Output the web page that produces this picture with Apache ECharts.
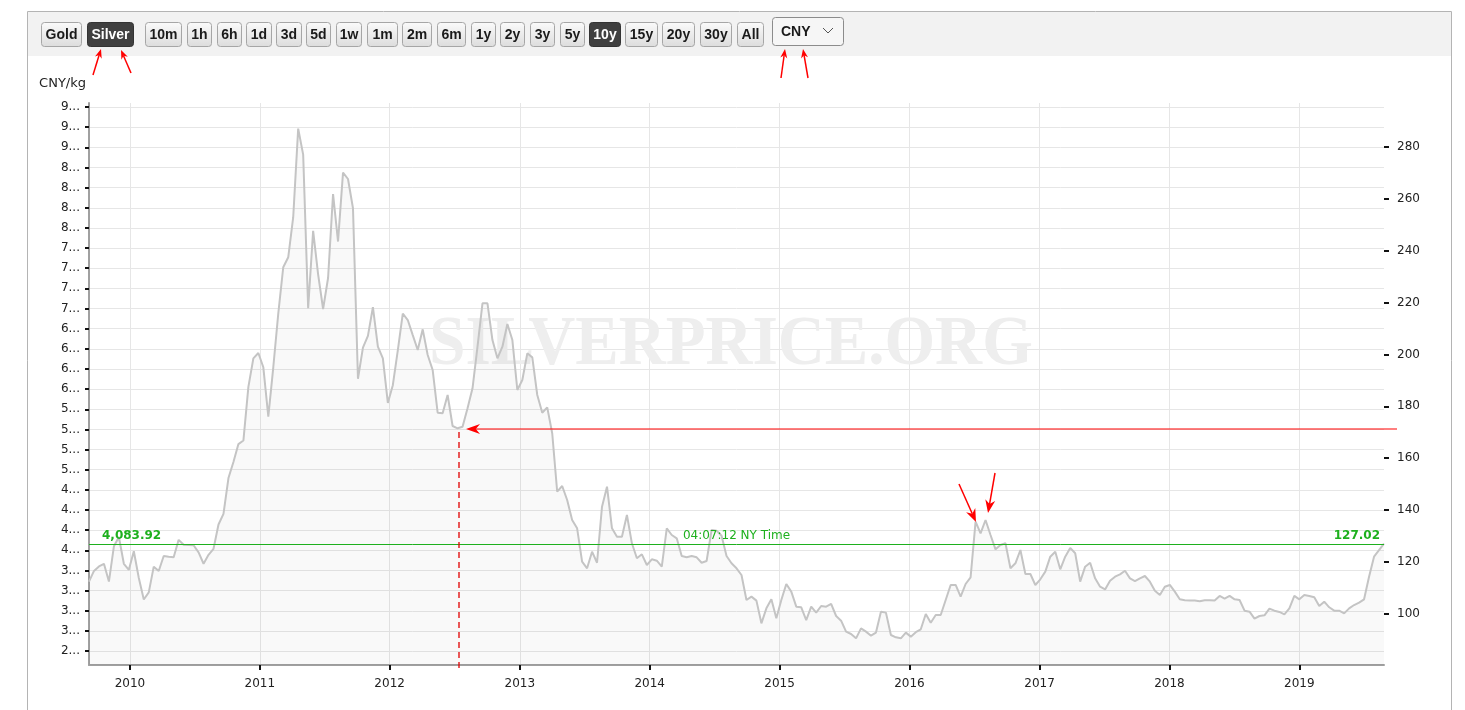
<!DOCTYPE html>
<html>
<head>
<meta charset="utf-8">
<title>Silver price 10y - CNY/kg</title>
<script src="https://cdn.jsdelivr.net/npm/echarts@6.0.0/dist/echarts.min.js"></script>
<style>
  html, body { margin: 0; padding: 0; background: #fff; }
  #chart { width: 1465px; height: 710px; }
</style>
</head>
<body>
<div id="chart"></div>
<script>
// silver price in CNY/kg, one point every 14 days from startDate
const startDate = '2009-09-08'
const stepDays = 14
const prices1 = [3612, 3744, 3800, 3833, 3612, 4050, 4165, 3833, 3758, 3988, 3656, 3390, 3478, 3797, 3744, 3930, 3920, 3913, 4130, 4068, 4065, 4063, 3975, 3833, 3944, 4019]
const prices2 = [4320, 4453, 4897, 5096, 5318, 5362, 6027, 6382, 6448, 6271, 5659, 6271, 6936, 7512, 7636, 8133, 9232, 8909, 7003, 7964, 7424, 6994, 7379, 8421, 7831, 8687]
const prices3 = [8607, 8244, 6129, 6515, 6661, 7016, 6528, 6382, 5828, 6049, 6480, 6938, 6857, 6670, 6485, 6742, 6423, 6237, 5707, 5700, 5927, 5542, 5514, 5534, 5762, 6010]
const prices4 = [6526, 7064, 7064, 6609, 6382, 6526, 6808, 6609, 5989, 6113, 6444, 6394, 5927, 5707, 5774, 5452, 4727, 4798, 4624, 4376, 4273, 3859, 3777, 3983, 3846, 4541]
const prices5 = [4789, 4273, 4169, 4169, 4438, 4087, 3901, 3950, 3818, 3888, 3871, 3797, 4273, 4190, 4149, 3929, 3913, 3929, 3913, 3846, 3867, 4252, 4244, 4180, 3930, 3839]
const prices6 = [3777, 3694, 3383, 3425, 3376, 3094, 3280, 3392, 3156, 3383, 3582, 3487, 3301, 3293, 3135, 3301, 3227, 3309, 3301, 3334, 3185, 3127, 2991, 2962, 2908, 3032]
const prices7 = [2991, 2941, 2979, 3239, 3227, 2949, 2920, 2908, 2979, 2929, 2984, 3020, 3210, 3102, 3197, 3197, 3383, 3570, 3570, 3425, 3582, 3665, 4355, 4210, 4376, 4190]
const prices8 = [4012, 4066, 4087, 3777, 3839, 4004, 3706, 3706, 3570, 3640, 3735, 3921, 3983, 3764, 3921, 4030, 3963, 3611, 3797, 3846, 3652, 3548, 3515, 3623, 3673, 3702]
const prices9 = [3747, 3652, 3619, 3652, 3681, 3611, 3499, 3445, 3548, 3570, 3487, 3392, 3380, 3376, 3376, 3368, 3380, 3380, 3376, 3434, 3400, 3434, 3392, 3383, 3251, 3239]
const prices10 = [3152, 3185, 3193, 3276, 3251, 3235, 3206, 3280, 3434, 3392, 3445, 3434, 3417, 3309, 3363, 3293, 3251, 3251, 3218, 3280, 3321, 3350, 3392, 3673, 3921]

// live quote
const latestDate = '2019-08-27'
const latestPrice = 4083.92
const latestTime = '04:07:12 NY Time'
const kgPerOz = 32.1507466

// axis ticks
const kgTicks = [2750, 3000, 3250, 3500, 3750, 4000, 4250, 4500, 4750, 5000, 5250, 5500, 5750, 6000, 6250, 6500, 6750, 7000, 7250, 7500, 7750, 8000, 8250, 8500, 8750, 9000, 9250, 9500]
const ozTicks = [100, 120, 140, 160, 180, 200, 220, 240, 260, 280]
const yearTicks = ['2010-01-01', '2011-01-01', '2012-01-01', '2013-01-01', '2014-01-01', '2015-01-01', '2016-01-01', '2017-01-01', '2018-01-01', '2019-01-01']
const kgMin = 2577
const kgMax = 9550

// toolbar
const metalButtons = ['Gold', 'Silver']
const rangeButtons = ['10m', '1h', '6h', '1d', '3d', '5d', '1w', '1m', '2m', '6m', '1y', '2y', '3y', '5y', '10y', '15y', '20y', '30y', 'All']
const currency = 'CNY'
const activeMetal = 'Silver'
const activeRange = '10y'

const DAY = 24 * 3600 * 1000
const toTime = d => new Date(d + 'T00:00:00Z').getTime()
const GREEN = '#1eb01e'

let chart = echarts.init(document.getElementById('chart'))

// series data [time, value]
function getSeriesData() {
  const history = [].concat(prices1, prices2, prices3, prices4, prices5, prices6, prices7, prices8, prices9, prices10)
  const t0 = toTime(startDate)
  let data = history.map((v, i) => [t0 + i * stepDays * DAY, v])
  data.push([toTime(latestDate), latestPrice])
  return data
}

// line with a filled head at (x2, y2)
function arrow(x1, y1, x2, y2, len, half, width) {
  const a = Math.atan2(y2 - y1, x2 - x1)
  const c = Math.cos(a), s = Math.sin(a)
  const bx = x2 - len * c, by = y2 - len * s
  const nx = x2 - len * 0.7 * c, ny = y2 - len * 0.7 * s
  return [
    { type: 'line', silent: true, z: 100, shape: { x1: x1, y1: y1, x2: nx, y2: ny }, style: { stroke: '#ff0000', lineWidth: width } },
    { type: 'polygon', silent: true, z: 100, shape: { points: [[x2, y2], [bx - half * s, by + half * c], [nx, ny], [bx + half * s, by - half * c]] }, style: { fill: '#ff0000' } }
  ]
}

// toolbar buttons
function getToolbar() {
  const boxes = [[41, 40], [87, 46], [145, 36], [187, 24], [217, 24], [246, 25], [276, 25], [306, 24], [336, 25], [367, 30], [402, 29], [437, 28], [471, 24], [500, 24], [530, 24], [560, 24], [589, 31], [625, 32], [662, 32], [700, 31], [737, 26]]
  const labels = metalButtons.concat(rangeButtons)
  let els = [
    { type: 'rect', silent: true, z: 90, shape: { x: 28, y: 12, width: 1423, height: 44 }, style: { fill: '#f2f2f2' } },
    { type: 'polyline', silent: true, z: 91, shape: { points: [[27.5, 710], [27.5, 11.5], [1451.5, 11.5], [1451.5, 710]] }, style: { stroke: '#b4b4b4', fill: null, lineWidth: 1 } }
  ]
  labels.forEach((label, i) => {
    const on = label === activeMetal || label === activeRange
    const b = boxes[i]
    els.push({
      type: 'rect', silent: true, z: 92,
      shape: { x: b[0] + 0.5, y: 22.5, width: b[1], height: 24, r: 3 },
      style: {
        fill: on ? '#404040' : new echarts.graphic.LinearGradient(0, 0, 0, 1, [{ offset: 0, color: '#fbfbfb' }, { offset: 1, color: '#dcdcdc' }]),
        stroke: on ? '#333' : '#a6a6a6', lineWidth: 1
      }
    })
    els.push({
      type: 'text', silent: true, z: 93, x: b[0] + b[1] / 2 + 0.5, y: 35,
      style: { text: label, font: 'bold 14px "Liberation Sans"', fill: on ? '#fff' : '#1a1a1a', align: 'center', verticalAlign: 'middle' }
    })
  })
  // currency drop-down
  els.push({ type: 'rect', silent: true, z: 92, shape: { x: 772.5, y: 17.5, width: 71, height: 28, r: 3 }, style: { fill: '#f6f6f6', stroke: '#8c8c8c', lineWidth: 1 } })
  els.push({ type: 'text', silent: true, z: 93, x: 781, y: 32, style: { text: currency, font: 'bold 14px "Liberation Sans"', fill: '#1a1a1a', verticalAlign: 'middle' } })
  els.push({ type: 'polyline', silent: true, z: 93, shape: { points: [[823, 28], [828, 33], [833, 28]] }, style: { stroke: '#555', fill: null, lineWidth: 1 } })
  return els
}

// red marks drawn over the picture
function getNotes() {
  let els = []
  els = els.concat(arrow(93, 75, 101, 49, 9, 3.5, 1.5))
  els = els.concat(arrow(131, 73, 121, 50, 9, 3.5, 1.5))
  els = els.concat(arrow(781, 78, 785, 49, 9, 3.5, 1.5))
  els = els.concat(arrow(808, 78, 803, 49, 9, 3.5, 1.5))
  els = els.concat(arrow(959, 484, 976, 522, 13, 5, 1.5))
  els = els.concat(arrow(995, 473, 988, 513, 13, 5, 1.5))
  els = els.concat(arrow(1397, 429, 466, 429, 14, 5, 1.2))
  els.push({ type: 'line', silent: true, z: 100, shape: { x1: 459, y1: 432, x2: 459, y2: 672 }, style: { stroke: '#e00000', lineWidth: 1.3, lineDash: [6, 4] } })
  return els
}

// green quote line and its texts, placed through the axes
function getQuote() {
  const y = Math.round(chart.convertToPixel({ yAxisIndex: 0 }, latestPrice)) + 0.5
  const x0 = chart.convertToPixel({ xAxisIndex: 0 }, toTime(startDate))
  const x1 = chart.convertToPixel({ xAxisIndex: 0 }, toTime(latestDate))
  const font = w => w + ' 12px "DejaVu Sans"'
  const text = (x, s, align, w) => ({
    type: 'text', silent: true, z: 95, x: x, y: y - 3,
    style: { text: s, font: font(w), fill: GREEN, align: align, verticalAlign: 'bottom' }
  })
  return [
    { type: 'line', silent: true, z: 95, shape: { x1: x0, y1: y, x2: x1, y2: y }, style: { stroke: GREEN, lineWidth: 1 } },
    text(x0 + 13, latestPrice.toLocaleString('en-US', { minimumFractionDigits: 2 }), 'left', 'bold'),
    text((x0 + x1) / 2, latestTime, 'center', 'normal'),
    text(x1 - 4, (latestPrice / kgPerOz).toFixed(2), 'right', 'bold')
  ]
}

function getWatermark() {
  return [{
    type: 'text', silent: true, z: 1, x: 731, y: 346, scaleX: 0.93,
    style: { text: 'SILVERPRICE.ORG', font: 'bold 70px "Liberation Serif"', fill: '#eeeeee', align: 'center', verticalAlign: 'middle' }
  }]
}

function getOptions() {
  let option = {
    animation: false,
    textStyle: { fontFamily: 'DejaVu Sans' },
    grid: { left: 89, right: 81, top: 103, bottom: 45, containLabel: false },
    xAxis: {
      // time values on a plain value axis so the year ticks can be listed
      type: 'value',
      min: toTime(startDate),
      max: toTime(latestDate),
      axisLine: { lineStyle: { color: '#a0a0a0', width: 2 } },
      axisTick: { customValues: yearTicks.map(toTime), length: 5, lineStyle: { color: '#111', width: 2 } },
      axisLabel: { customValues: yearTicks.map(toTime), color: '#222', fontSize: 12, margin: 13, formatter: v => String(new Date(v).getUTCFullYear()) },
      splitLine: { show: true, lineStyle: { color: '#e6e6e6' } }
    },
    yAxis: [{
      type: 'value',
      position: 'left',
      min: kgMin,
      max: kgMax,
      name: 'CNY/kg',
      nameLocation: 'end',
      nameGap: 13,
      nameTextStyle: { color: '#222', fontSize: 13, align: 'right', padding: [0, 3, 0, 0] },
      axisLine: { show: true, lineStyle: { color: '#a0a0a0', width: 2 } },
      axisTick: { show: true, customValues: kgTicks, length: 4, lineStyle: { color: '#111', width: 2 } },
      axisLabel: {
        customValues: kgTicks, color: '#222', fontSize: 12, margin: 9,
        width: 22, overflow: 'truncate', ellipsis: '...',
        formatter: v => v.toLocaleString('en-US')
      },
      splitLine: { show: true, lineStyle: { color: '#e6e6e6' } }
    }, {
      type: 'value',
      position: 'right',
      min: kgMin / kgPerOz,
      max: kgMax / kgPerOz,
      axisLine: { show: false },
      axisTick: { show: true, customValues: ozTicks, length: 5, lineStyle: { color: '#111', width: 2 } },
      axisLabel: { customValues: ozTicks, color: '#222', fontSize: 12, margin: 13 },
      splitLine: { show: false }
    }],
    series: [{
      name: 'Silver',
      type: 'line',
      yAxisIndex: 0,
      symbol: 'none',
      data: getSeriesData(),
      color: '#c4c4c4',
      lineStyle: { color: '#c4c4c4', width: 2 },
      areaStyle: { color: 'rgba(0,0,0,0.03)', origin: 'start' },
      z: 3
    }],
    graphic: { elements: getWatermark().concat(getToolbar(), getNotes()) }
  }
  return option
}

chart.setOption(getOptions())
// second pass once the axes exist
chart.setOption({ graphic: { elements: getWatermark().concat(getToolbar(), getNotes(), getQuote()) } })
</script>
</body>
</html>
